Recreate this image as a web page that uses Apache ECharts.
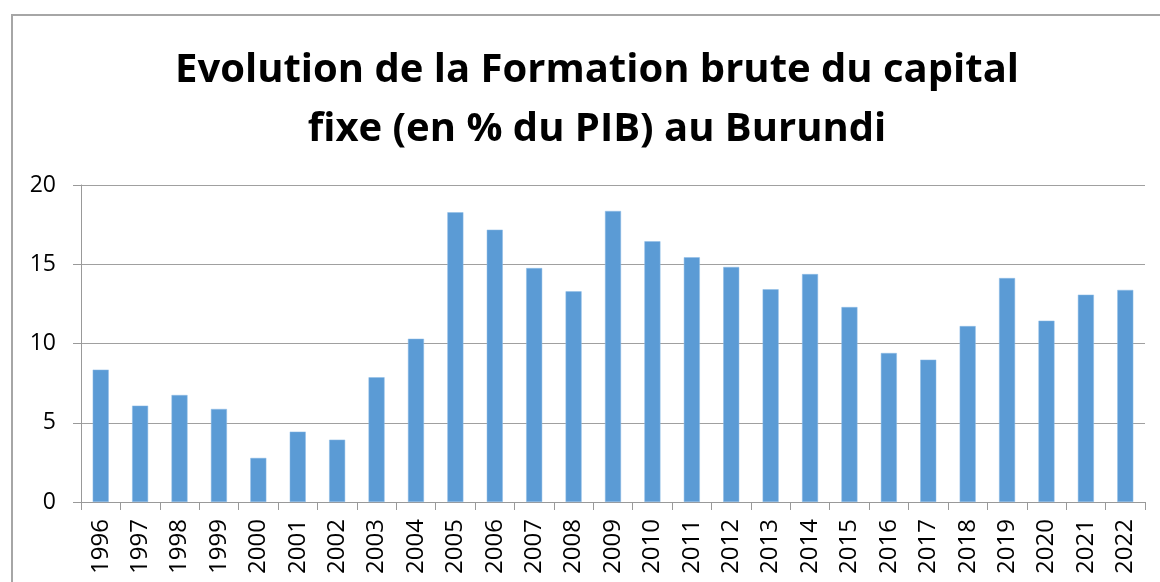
<!DOCTYPE html>
<html>
<head>
<meta charset="utf-8">
<script src="https://cdn.jsdelivr.net/npm/echarts@6/dist/echarts.min.js"></script>
<style>
  html, body { margin: 0; padding: 0; background: #fff; }
  #chart { width: 1160px; height: 582px; }
</style>
</head>
<body>
<div id="chart"></div>
<script>
// données
var annees = ['1996', '1997', '1998', '1999', '2000', '2001', '2002', '2003', '2004', '2005',
  '2006', '2007', '2008', '2009', '2010', '2011', '2012', '2013', '2014', '2015',
  '2016', '2017', '2018', '2019', '2020', '2021', '2022'];
var fbcf = [8.35, 6.08, 6.75, 5.87, 2.78, 4.44, 3.93, 7.87, 10.3, 18.28,
  17.18, 14.76, 13.29, 18.36, 16.45, 15.44, 14.83, 13.42, 14.38, 12.3,
  9.4, 8.98, 11.1, 14.13, 11.44, 13.08, 13.38];
var graduations = [0, 5, 10, 15, 20];

(function () {
  var option = {
    animation: false,
    title: {
      text: 'Evolution de la Formation brute du capital\nfixe (en % du PIB) au Burundi',
      left: 592,
      textAlign: 'center',
      top: 36,
      textStyle: {
        fontFamily: 'Open Sans',
        fontWeight: 'bold',
        fontSize: 40,
        lineHeight: 59,
        color: '#000'
      }
    },
    graphic: [{
      type: 'rect',
      shape: { x: 12, y: 15, width: 1160, height: 600 },
      style: { fill: 'none', stroke: '#a6a6a6', lineWidth: 2 },
      silent: true
    }],
    grid: { left: 81, right: 15, top: 185, bottom: 80 },
    xAxis: {
      type: 'category',
      data: annees,
      axisLine: { lineStyle: { color: '#999', width: 1 } },
      axisTick: { show: true, length: 8, alignWithLabel: false, lineStyle: { color: '#999' } },
      axisLabel: {
        rotate: 90,
        margin: 17,
        interval: 0,
        fontFamily: 'Open Sans',
        fontSize: 24,
        color: '#000'
      }
    },
    yAxis: {
      type: 'value',
      min: graduations[0],
      max: graduations[graduations.length - 1],
      interval: 5,
      axisLine: { show: true, lineStyle: { color: '#999', width: 1 } },
      axisTick: { show: true, length: 8, lineStyle: { color: '#999' } },
      axisLabel: {
        margin: 25,
        fontFamily: 'Open Sans',
        fontSize: 23,
        color: '#000'
      },
      splitLine: { lineStyle: { color: '#a0a0a0', width: 1 } }
    },
    series: [{
      type: 'bar',
      data: fbcf,
      barWidth: 16,
      itemStyle: { color: '#5b9bd5', borderColor: '#8fbde6', borderWidth: 0.5 }
    }]
  };

  var myChart = echarts.init(document.getElementById('chart'));
  myChart.setOption(option);
})();
</script>
</body>
</html>
